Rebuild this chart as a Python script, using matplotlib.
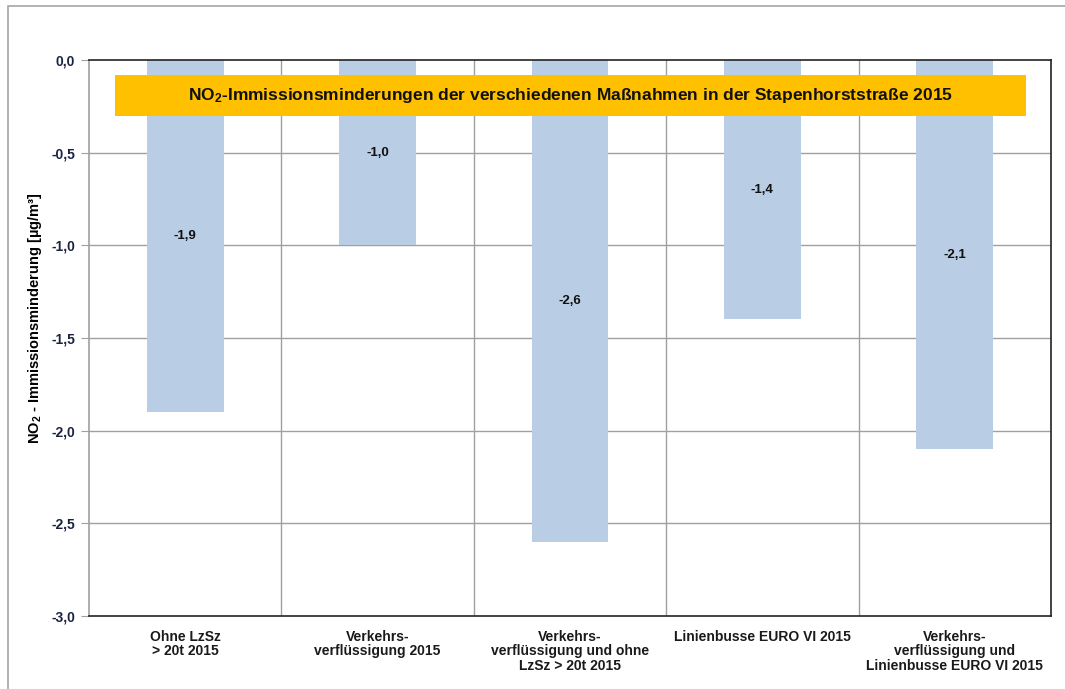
import matplotlib.pyplot as plt
from matplotlib.patches import Rectangle
from matplotlib.ticker import FuncFormatter

plt.rcParams['font.family'] = ['Liberation Sans', 'DejaVu Sans']
plt.rcParams['mathtext.fontset'] = 'custom'
plt.rcParams['mathtext.rm'] = 'Liberation Sans:bold'
plt.rcParams['mathtext.bf'] = 'Liberation Sans:bold'
plt.rcParams['mathtext.default'] = 'bf'

categories = ['Ohne LzSz\n> 20t 2015',
              'Verkehrs-\nverflüssigung 2015',
              'Verkehrs-\nverflüssigung und ohne\nLzSz > 20t 2015',
              'Linienbusse EURO VI 2015',
              'Verkehrs-\nverflüssigung und\nLinienbusse EURO VI 2015']
values = [-1.9, -1.0, -2.6, -1.4, -2.1]
yticks = [0.0, -0.5, -1.0, -1.5, -2.0, -2.5, -3.0]

fig = plt.figure(figsize=(10.65, 6.89), dpi=100)
ax = fig.add_axes([89/1065, 1-616/689, (1051-89)/1065, (616-60)/689])

# outer frame
fig.patches.append(Rectangle((8/1065, -0.05), 1.1, 1-6/689+0.05, transform=fig.transFigure,
                             fill=False, edgecolor='#a6a6a6', lw=1.2))

x = [i + 0.5 for i in range(len(values))]
ax.bar(x, values, width=0.4, color='#b9cde5', zorder=2)

for xi, v in zip(x, values):
    ax.text(xi, v / 2, ('%.1f' % v).replace('.', ','), ha='center', va='center',
            fontsize=9.5, fontweight='bold', color='#111111', zorder=4)

ax.set_xlim(0, 5)
ax.set_ylim(-3.0, 0.0)
ax.set_yticks(yticks)
ax.yaxis.set_major_formatter(FuncFormatter(lambda v, p: ('%.1f' % v).replace('.', ',')))
ax.set_xticks(x)
ax.set_xticklabels(categories, fontsize=10, fontweight='bold', color='#1a1a1a', linespacing=1.05)
ax.tick_params(axis='x', length=0, pad=10)
ax.tick_params(axis='y', length=6, color='#a0a0a0', labelsize=10, labelcolor='#1c2340', pad=4)
for lbl in ax.get_yticklabels():
    lbl.set_fontweight('bold')

for gy in yticks[1:-1]:
    ax.axhline(gy, color='#a0a0a0', lw=1.0, zorder=1)
for gx in range(1, 5):
    ax.axvline(gx, color='#a0a0a0', lw=1.0, zorder=1)

ax.spines['left'].set_color('#a0a0a0')
for s in ['top', 'right', 'bottom']:
    ax.spines[s].set_color('#222222')
for s in ax.spines.values():
    s.set_linewidth(1.2)

ax.set_ylabel('NO$_2$ - Immissionsminderung [µg/m³]', fontsize=10.5, fontweight='bold')
ax.yaxis.set_label_coords(-0.047, 0.536)

# title box inside plot
ax.add_patch(Rectangle((0.027, -0.30), 0.947, 0.22, transform=ax.get_yaxis_transform(),
                       facecolor='#ffc000', edgecolor='none', zorder=3))
ax.text(0.5, -0.19, 'NO$_2$-Immissionsminderungen der verschiedenen Maßnahmen in der Stapenhorststraße 2015',
        transform=ax.get_yaxis_transform(), ha='center', va='center', fontsize=12.5,
        fontweight='bold', color='#111111', zorder=4)

fig.savefig('out.png', dpi=100)
